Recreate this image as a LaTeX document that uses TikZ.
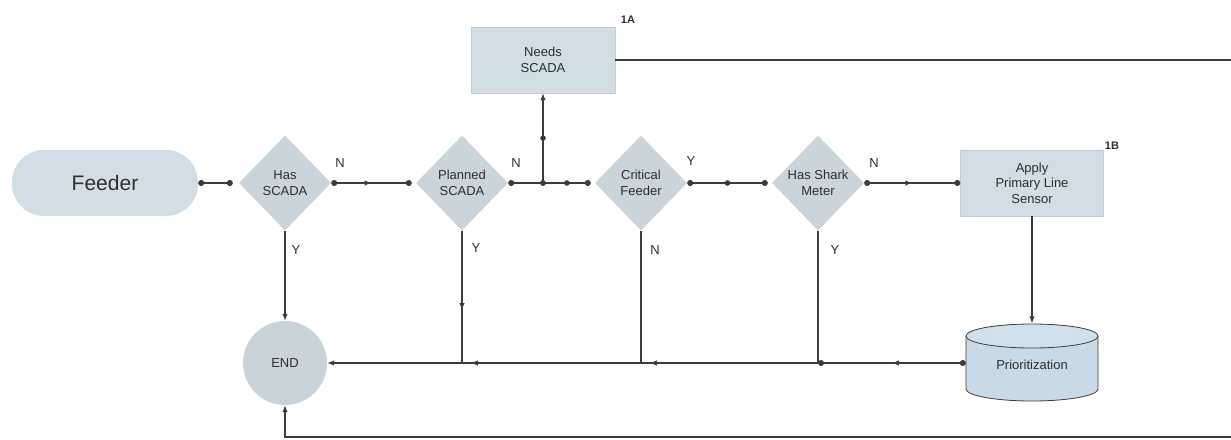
\documentclass[tikz,border=0pt]{standalone}
\usepackage{fontspec}
\setmainfont{Liberation Sans}
\usetikzlibrary{shapes.geometric,arrows.meta,decorations.markings}
\definecolor{boxfill}{HTML}{D2DEE6}
\definecolor{diafill}{HTML}{CAD4DB}
\definecolor{endfill}{HTML}{C9D3DA}
\definecolor{cylfill}{HTML}{C9DAE6}
\definecolor{linec}{HTML}{3C3C3C}
\definecolor{textc}{HTML}{2E2E2E}
\begin{document}
\begin{tikzpicture}[x=1pt,y=-1pt,
  every node/.style={text=textc,font=\fontsize{13}{15.5}\selectfont},
  decision/.style={diamond,fill=diafill,minimum width=92pt,minimum height=95pt,inner sep=0pt,align=center},
  process/.style={rectangle,fill=boxfill,draw=boxfill!80!gray,minimum width=144pt,minimum height=66pt,align=center},
  lbl/.style={inner sep=0pt,font=\fontsize{13}{15}\selectfont},
  tag/.style={inner sep=0pt,font=\fontsize{11}{13}\selectfont\bfseries},
  conn/.style={draw=linec,line width=1.1pt},
  dotstart/.style={{Circle[length=6pt]}-},
  dotboth/.style={{Circle[length=6pt]}-{Circle[length=6pt]}},
  arrowend/.style={-{Latex[length=7pt,width=5.5pt]}},
  midarrow/.style={postaction={decorate},decoration={markings,
     mark=at position #1 with {\arrow{Latex[length=7pt,width=5.5pt]}}}},
  middot/.style={postaction={decorate},decoration={markings,
     mark=at position #1 with {\fill[linec] (0,0) circle (2.8pt);}}}
]
\useasboundingbox (0,0) rectangle (1231,439);

% shapes
\node[rectangle,rounded corners=32pt,fill=boxfill,minimum width=186pt,minimum height=66pt,
      font=\fontsize{21}{24}\selectfont] (feeder) at (105,183) {Feeder};
\node[decision] (hasscada) at (285,183) {Has\\SCADA};
\node[decision] (planned) at (462,183) {Planned\\SCADA};
\node[decision] (critical) at (641,183) {Critical\\Feeder};
\node[decision] (shark) at (818,183) {Has Shark\\Meter};
\node[process] (needs) at (543,60) {Needs\\SCADA};
\node[process,minimum width=143pt] (apply) at (1032,183) {Apply\\Primary Line\\Sensor};
\node[circle,fill=endfill,minimum size=84pt,inner sep=0pt] (endn) at (285,363) {END};

% storage cylinder
\fill[cylfill] (966,336) -- (966,389) arc[start angle=180,end angle=360,x radius=66pt,y radius=12pt]
   -- (1098,336) arc[start angle=0,end angle=180,x radius=66pt,y radius=12pt] -- cycle;
\draw[linec,line width=0.8pt] (966,336) -- (966,389) arc[start angle=180,end angle=360,x radius=66pt,y radius=12pt]
   -- (1098,336);
\draw[linec,line width=0.8pt,fill=cylfill!85!white] (1032,336) ellipse[x radius=66pt,y radius=12pt];
\node[rectangle,minimum width=132pt,minimum height=77pt,inner sep=0pt] (prio) at (1032,363) {};
\node at (1032,365) {Prioritization};

% labels
\node[tag] (t1a) at (628,20) {1A};
\node[tag] (t1b) at (1112,146) {1B};
\node[lbl] (l1) at (340,163) {N};
\node[lbl] (l2) at (296,250) {Y};
\node[lbl] (l3) at (516,163) {N};
\node[lbl] (l4) at (476,248) {Y};
\node[lbl] (l5) at (691,161) {Y};
\node[lbl] (l6) at (655,250) {N};
\node[lbl] (l7) at (874,163) {N};
\node[lbl] (l8) at (835,250) {Y};

% junctions and free ends
\coordinate (j1) at (543,183);
\coordinate (j2) at (462,363);
\coordinate (j3) at (641,363);
\coordinate (j4) at (818,363);
\coordinate (topend) at (1231,60);
\coordinate (botend) at (1231,437);
\coordinate (botcorner) at (285,437);

% main flow
\draw[conn,dotboth] (feeder.east) -- ([xshift=-6pt]hasscada.west);
\draw[conn,dotboth,midarrow=0.5] (hasscada.east) -- ([xshift=-4pt]planned.west);
\draw[conn,dotstart] (planned.east) -- (j1);
\draw[conn,-{Circle[length=6pt]},middot=0.5] (j1) -- ([xshift=-4pt]critical.west);
\fill[linec] (j1) circle (3pt);
\draw[conn,arrowend,middot=0.5] (j1) -- (needs.south);
\draw[conn,dotboth,middot=0.5] (critical.east) -- ([xshift=-4pt]shark.west);
\draw[conn,dotboth,midarrow=0.5] (shark.east) -- (apply.west);
\draw[conn] (needs.east) -- (topend);

% return paths to END
\draw[conn,arrowend] (hasscada.south) -- (endn.north);
\draw[conn,midarrow=0.6] (planned.south) -- (j2);
\draw[conn] (critical.south) -- (j3);
\draw[conn] (shark.south) -- (j4);
\draw[conn,arrowend] (apply.south) -- ([yshift=1pt]prio.north);
\draw[conn,{Circle[length=6pt]}-{Circle[length=6pt]},midarrow=0.5] (prio.west) -- (j4);
\draw[conn,midarrow=0.95] (j4) -- (j3);
\draw[conn,midarrow=0.95] (j3) -- (j2);
\draw[conn,arrowend] (j2) -- (endn.east);
\draw[conn,arrowend] (botend) -- (botcorner) -- (endn.south);
\end{tikzpicture}
\end{document}
